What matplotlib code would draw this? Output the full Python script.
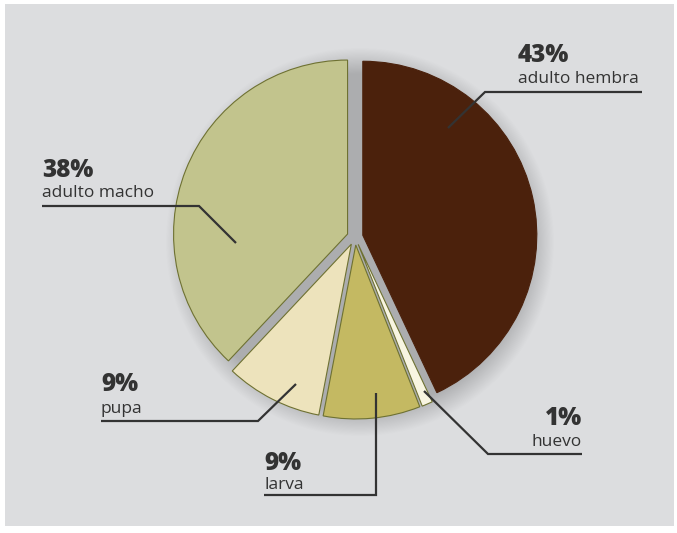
#!/usr/bin/env python3
'''Pie chart: share of each life stage'''
import matplotlib
matplotlib.use('Agg')
import matplotlib.pyplot as plt
from matplotlib.patches import Rectangle, Circle

W, H = 677, 533

stages = ['adulto hembra', 'huevo', 'larva', 'pupa', 'adulto macho']
shares = [43, 1, 9, 9, 38]
colors = ['#4b210c', '#f8f5e1', '#c4b962', '#ede3bc', '#c2c48d']

# label layout in pixels: (text x, pct baseline, name baseline, align, leader line)
label_pos = {
    'adulto hembra': (518, 62, 83, 'left', [(448, 128), (485, 92), (642, 92)]),
    'huevo': (582, 425, 446, 'right', [(424, 391), (488, 454), (582, 454)]),
    'larva': (264, 470, 489, 'left', [(376, 393), (376, 495), (264, 495)]),
    'pupa': (101, 391, 413, 'left', [(296, 384), (258, 421), (101, 421)]),
    'adulto macho': (42, 177, 197, 'left', [(236, 243), (199, 206), (42, 206)]),
}

CX, CY, R, EXPL = 355, 237, 174, 8
TXT = '#333333'


def fy(y):
    return H - y


def run():
    fig = plt.figure(figsize=(W / 100, H / 100), dpi=100)
    fig.patch.set_facecolor('white')
    ax = fig.add_axes([0, 0, 1, 1])

    ax.add_patch(Rectangle((5, fy(526)), 669, 522, facecolor='#dcdddf',
                           edgecolor='none', zorder=0))

    # soft shadow under the pie
    n = 24
    for k in range(n):
        ax.add_patch(Circle((CX + 5, fy(CY + 5)), R + 20 - k * 1.1,
                            facecolor='black', edgecolor='none',
                            alpha=0.006, zorder=1))

    wedges, _ = ax.pie(shares, colors=colors, startangle=90,
                       counterclock=False, center=(CX, fy(CY)), radius=R,
                       explode=[EXPL] * len(shares), frame=True,
                       wedgeprops=dict(edgecolor='#6e7132', linewidth=0.8))
    wedges[0].set_edgecolor(colors[0])
    for w in wedges:
        w.set_zorder(2)

    ax.set_xlim(0, W)
    ax.set_ylim(0, H)
    ax.set_aspect('auto')
    ax.axis('off')

    for name, val in zip(stages, shares):
        x, yb1, yb2, ha, pts = label_pos[name]
        ax.plot([p[0] for p in pts], [fy(p[1]) for p in pts], color='#333333',
                lw=1.6, solid_capstyle='butt', solid_joinstyle='miter',
                zorder=3)
        ax.text(x, fy(yb1), f'{val}%', ha=ha, va='baseline', fontsize=17.5,
                fontweight='heavy', family='Open Sans', color=TXT, zorder=4)
        ax.text(x, fy(yb2), name, ha=ha, va='baseline', fontsize=12.5,
                family='Open Sans', color=TXT, zorder=4)

    fig.savefig('out.png', dpi=100, facecolor='white')


if __name__ == '__main__':
    run()
